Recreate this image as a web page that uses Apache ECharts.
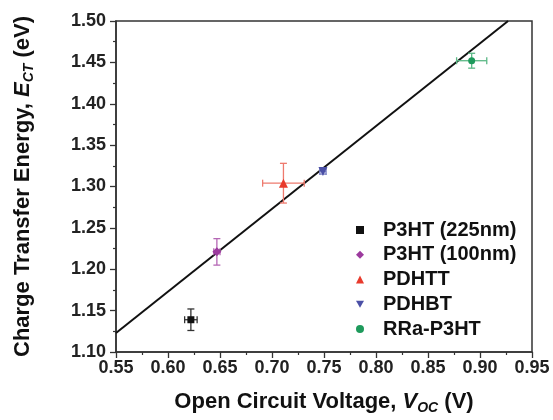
<!DOCTYPE html>
<html><head><meta charset="utf-8">
<script src="https://cdn.jsdelivr.net/npm/echarts@6/dist/echarts.min.js"></script>
<style>html,body{margin:0;padding:0;background:#fff}#c{width:553px;height:420px}</style>
</head><body><div id="c"></div>
<script>
// Data
const seriesNames = ['P3HT (225nm)', 'P3HT (100nm)', 'PDHTT', 'PDHBT', 'RRa-P3HT'];
const vocValues   = [0.622, 0.647, 0.711, 0.749, 0.892];
const ectValues   = [1.139, 1.221, 1.304, 1.318, 1.452];
const vocErrors   = [0.006, 0.003, 0.020, 0.003, 0.0145];
const ectErrors   = [0.013, 0.016, 0.024, 0.003, 0.009];
const fitLineX    = [0.55, 0.927];
const fitLineY    = [1.123, 1.500];
const xTicks = ['0.55','0.60','0.65','0.70','0.75','0.80','0.85','0.90','0.95'];
const yTicks = ['1.10','1.15','1.20','1.25','1.30','1.35','1.40','1.45','1.50'];

const colors  = ['#111111', '#9c3a9e', '#e83a2c', '#4b50a6', '#1e9a5c'];
const errColors = ['#333333', '#b567b5', '#ee7a6e', '#7a80c4', '#5cb886'];
const symbols = ['rect', 'diamond', 'triangle', 'path://M0,0L10,0L5,9Z', 'circle'];
const symSizes = [7, 9, 9, 9, 7];

const chart = echarts.init(document.getElementById('c'), null, {renderer: 'canvas'});
const font = 'Liberation Sans, Arial, sans-serif';

const series = [];
series.push({
  type: 'line', name: 'fit', data: fitLineX.map((x, i) => [x, fitLineY[i]]),
  symbol: 'none', lineStyle: {color: '#111', width: 2}, z: 3, silent: true
});
series.push({
  type: 'custom', name: 'err',
  data: vocValues.map((x, i) => [x, ectValues[i], vocErrors[i], ectErrors[i], i]),
  renderItem: function (params, api) {
    const x = api.value(0), y = api.value(1), ex = api.value(2), ey = api.value(3), k = api.value(4);
    const c = api.coord([x, y]);
    const l = api.coord([x - ex, y]), r = api.coord([x + ex, y]);
    const t = api.coord([x, y + ey]), b = api.coord([x, y - ey]);
    const cap = 3.5;
    const st = {stroke: errColors[k], lineWidth: 1.3};
    return {type: 'group', children: [
      {type: 'line', shape: {x1: l[0], y1: c[1], x2: r[0], y2: c[1]}, style: st},
      {type: 'line', shape: {x1: l[0], y1: c[1]-cap, x2: l[0], y2: c[1]+cap}, style: st},
      {type: 'line', shape: {x1: r[0], y1: c[1]-cap, x2: r[0], y2: c[1]+cap}, style: st},
      {type: 'line', shape: {x1: c[0], y1: t[1], x2: c[0], y2: b[1]}, style: st},
      {type: 'line', shape: {x1: c[0]-cap, y1: t[1], x2: c[0]+cap, y2: t[1]}, style: st},
      {type: 'line', shape: {x1: c[0]-cap, y1: b[1], x2: c[0]+cap, y2: b[1]}, style: st}
    ]};
  },
  z: 4, silent: true
});
seriesNames.forEach((n, i) => {
  series.push({
    type: 'scatter', name: n, data: [[vocValues[i], ectValues[i]]],
    symbol: symbols[i], symbolSize: symSizes[i],
    itemStyle: {color: colors[i], opacity: 1}, z: 5
  });
});

const titleRich = {
  i: {fontFamily: font, fontWeight: 'bold', fontStyle: 'italic', fontSize: 22, color: '#111'},
  sub: {fontFamily: font, fontWeight: 'bold', fontStyle: 'italic', fontSize: 14, color: '#111', padding: [12, 0, 0, 0]},
  n: {fontFamily: font, fontWeight: 'bold', fontSize: 22, color: '#111'}
};

chart.setOption({
  animation: false,
  backgroundColor: '#ffffff',
  grid: {left: 116, right: 21, top: 21, bottom: 65, show: true, borderColor: '#333', borderWidth: 1.5, backgroundColor: 'transparent'},
  legend: {
    data: seriesNames.map((n, i) => ({name: n, icon: symbols[i]})),
    orient: 'vertical', left: 351, top: 215, itemWidth: 8, itemHeight: 8, itemGap: 4.75,
    textStyle: {fontFamily: font, fontWeight: 'bold', fontSize: 20, lineHeight: 20, color: '#111', padding: [0, 0, 0, 14]}
  },
  xAxis: {
    type: 'value', min: 0.55, max: 0.95, interval: 0.05,
    name: 'Open Circuit Voltage, {i|V}{sub|OC} {n|(V)}', nameLocation: 'middle', nameGap: 37,
    nameTextStyle: {fontFamily: font, fontWeight: 'bold', fontSize: 22, color: '#111', rich: titleRich},
    axisLine: {show: true, onZero: false, lineStyle: {color: '#333', width: 1.5}},
    axisTick: {show: true, inside: false, length: 6, lineStyle: {color: '#333', width: 1.3}},
    minorTick: {show: true, splitNumber: 2, length: 3, lineStyle: {color: '#333', width: 1.2}},
    splitLine: {show: false},
    axisLabel: {fontFamily: font, fontWeight: 'bold', fontSize: 18, color: '#222', margin: 7,
      formatter: (v) => { const s = v.toFixed(2); return xTicks.includes(s) ? s : ''; }}
  },
  yAxis: {
    type: 'value', min: 1.10, max: 1.50, interval: 0.05,
    name: 'Charge Transfer Energy, {i|E}{sub|CT} {n|(eV)}', nameLocation: 'middle', nameGap: 80,
    nameTextStyle: {fontFamily: font, fontWeight: 'bold', fontSize: 22, color: '#111', rich: titleRich},
    axisLine: {show: true, onZero: false, lineStyle: {color: '#333', width: 1.5}},
    axisTick: {show: true, inside: false, length: 6, lineStyle: {color: '#333', width: 1.3}},
    minorTick: {show: true, splitNumber: 2, length: 3, lineStyle: {color: '#333', width: 1.2}},
    splitLine: {show: false},
    axisLabel: {fontFamily: font, fontWeight: 'bold', fontSize: 18, color: '#222', margin: 10,
      formatter: (v) => { const s = v.toFixed(2); return yTicks.includes(s) ? s : ''; }}
  },
  series: series
});
</script>
</body></html>
